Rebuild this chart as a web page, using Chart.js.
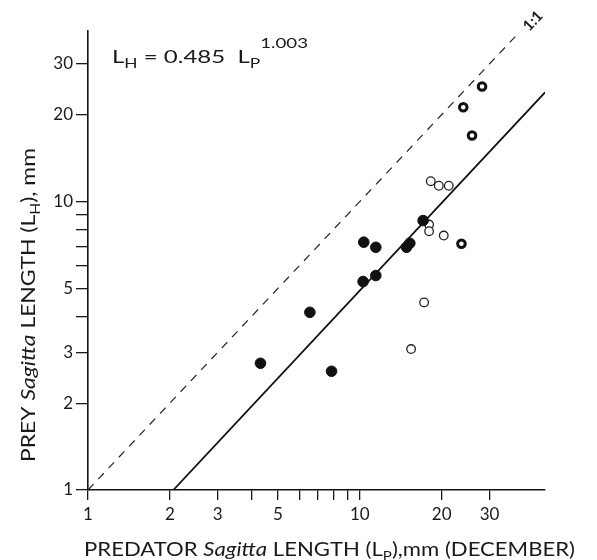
<!DOCTYPE html>
<html>
<head>
<meta charset="utf-8">
<script src="https://cdn.jsdelivr.net/npm/chart.js@4"></script>
<style>
  html, body { margin: 0; padding: 0; background: #fff; }
  #chart { display: block; }
</style>
</head>
<body>
<canvas id="chart" width="597" height="560" style="width:597px;height:560px"></canvas>
<script>
// values (predator length, prey length in mm)
const filledX = [4.31, 6.55, 7.87, 10.28, 11.45, 10.34, 11.45, 14.85, 15.27, 17.09];
const filledY = [2.75, 4.13, 2.58, 5.28, 5.54, 7.23, 6.94, 6.94, 7.17, 8.59];
const openX = [15.44, 17.24, 17.98, 17.98, 20.36, 18.24, 19.52, 21.24];
const openY = [3.08, 4.47, 8.32, 7.89, 7.62, 11.76, 11.34, 11.34];
const ringX = [23.65, 25.87, 24.02, 28.16];
const ringY = [7.14, 16.93, 21.23, 25.03];
const fitX = [2.06, 48];
const fitY = [1.0, 23.9];
const oneToOneX = [1, 38.5];
const oneToOneY = [1, 38.5];

const xTicks = [1, 2, 3, 4, 5, 6, 7, 8, 9, 10, 20, 30];
const xLabels = [1, 2, 3, 5, 10, 20, 30];
const yTicks = [1, 2, 3, 4, 5, 6, 7, 8, 9, 10, 20, 30];
const yLabels = [1, 2, 3, 5, 10, 20, 30];

const FONT = "Lato";
const INK = "#1a1a1a";

function pts(xs, ys) {
  return xs.map((x, i) => ({ x: x, y: ys[i] }));
}

// draws a run of text pieces (italic, sub, super) one after another
function drawRich(ctx, segs, x, y, target) {
  ctx.save();
  ctx.translate(x, y);
  let w = 0;
  segs.forEach(s => { ctx.font = s.f; w += ctx.measureText(s.t).width; });
  if (target) ctx.scale(target / w, 1);
  let cx = 0;
  ctx.fillStyle = INK;
  ctx.textBaseline = "alphabetic";
  ctx.textAlign = "left";
  segs.forEach(s => {
    ctx.font = s.f;
    ctx.fillText(s.t, cx, s.dy || 0);
    cx += ctx.measureText(s.t).width;
  });
  ctx.restore();
}

const textPlugin = {
  id: "texts",
  afterDraw(chart) {
    const ctx = chart.ctx;
    const base = "19px " + FONT;
    const it = "italic 19px " + FONT;
    const sub = "13px " + FONT;

    // x title
    drawRich(ctx, [
      { t: "PREDATOR ", f: base },
      { t: "Sagitta", f: it },
      { t: " LENGTH (L", f: base },
      { t: "P", f: sub, dy: 5 },
      { t: "),mm (DECEMBER)", f: base }
    ], 84, 556, 491);

    // y title
    ctx.save();
    ctx.translate(35, 462);
    ctx.rotate(-Math.PI / 2);
    drawRich(ctx, [
      { t: "PREY ", f: base },
      { t: "Sagitta", f: it },
      { t: " LENGTH (L", f: base },
      { t: "H", f: sub, dy: 5 },
      { t: "), mm", f: base }
    ], 0, 0, 314);
    ctx.restore();

    // fitted equation
    const eq = "18px " + FONT;
    drawRich(ctx, [
      { t: "L", f: eq },
      { t: "H", f: sub, dy: 5 },
      { t: " = 0.485  L", f: eq },
      { t: "P", f: sub, dy: 5 },
      { t: "1.003", f: "14px " + FONT, dy: -15 }
    ], 112, 63, 196);

    // 1:1 label along the dashed line
    const xs = chart.scales.x, ys = chart.scales.y;
    const ang = Math.atan2(ys.getPixelForValue(1) - ys.getPixelForValue(10),
                           xs.getPixelForValue(10) - xs.getPixelForValue(1));
    ctx.save();
    ctx.translate(533, 21);
    ctx.rotate(-ang);
    ctx.font = "bold 15px " + FONT;
    ctx.fillStyle = INK;
    ctx.textAlign = "center";
    ctx.textBaseline = "middle";
    ctx.fillText("1:1", 0, 0);
    ctx.restore();
  }
};

const axisCommon = {
  type: "logarithmic",
  ticks: {
    autoSkip: false,
    maxRotation: 0,
    minRotation: 0,
    color: INK,
    font: { family: FONT, size: 17 }
  },
  grid: {
    drawOnChartArea: false,
    drawTicks: true,
    color: INK,
    lineWidth: 1.3
  },
  border: { display: true, color: "#111", width: 1.6 }
};

new Chart("chart", {
  type: "scatter",
  data: {
    datasets: [
      {
        label: "filled",
        data: pts(filledX, filledY),
        pointRadius: 5.3,
        pointBackgroundColor: "#111",
        pointBorderColor: "#111",
        pointBorderWidth: 1
      },
      {
        label: "open",
        data: pts(openX, openY),
        pointRadius: 4.3,
        pointBackgroundColor: "#fff",
        pointBorderColor: "#222",
        pointBorderWidth: 1.3
      },
      {
        label: "ring",
        data: pts(ringX, ringY),
        pointRadius: 3.8,
        pointBackgroundColor: "#fff",
        pointBorderColor: "#111",
        pointBorderWidth: 3
      },
      {
        label: "fit",
        data: pts(fitX, fitY),
        showLine: true,
        pointRadius: 0,
        borderColor: "#111",
        borderWidth: 1.8
      },
      {
        label: "1:1",
        data: pts(oneToOneX, oneToOneY),
        showLine: true,
        pointRadius: 0,
        borderColor: "#222",
        borderWidth: 1.2,
        borderDash: [8, 7],
        clip: false
      }
    ]
  },
  options: {
    responsive: false,
    animation: false,
    layout: { padding: { top: 31, right: 52, left: 0, bottom: 0 } },
    plugins: { legend: { display: false }, tooltip: { enabled: false } },
    scales: {
      x: {
        ...axisCommon,
        min: 1,
        max: 48,
        afterBuildTicks: s => { s.ticks = xTicks.map(v => ({ value: v })); },
        afterFit: s => { s.height = 70; },
        ticks: { ...axisCommon.ticks, padding: 4,
          callback: v => xLabels.includes(v) ? String(v) : "" },
        grid: { ...axisCommon.grid, tickLength: 10 }
      },
      y: {
        ...axisCommon,
        min: 1,
        max: 39,
        afterBuildTicks: s => { s.ticks = yTicks.map(v => ({ value: v })); },
        afterFit: s => { s.width = 88; },
        ticks: { ...axisCommon.ticks, padding: 3,
          callback: v => yLabels.includes(v) ? String(v) : "" },
        grid: { ...axisCommon.grid, tickLength: 12 }
      }
    }
  },
  plugins: [textPlugin]
});
</script>
</body>
</html>
